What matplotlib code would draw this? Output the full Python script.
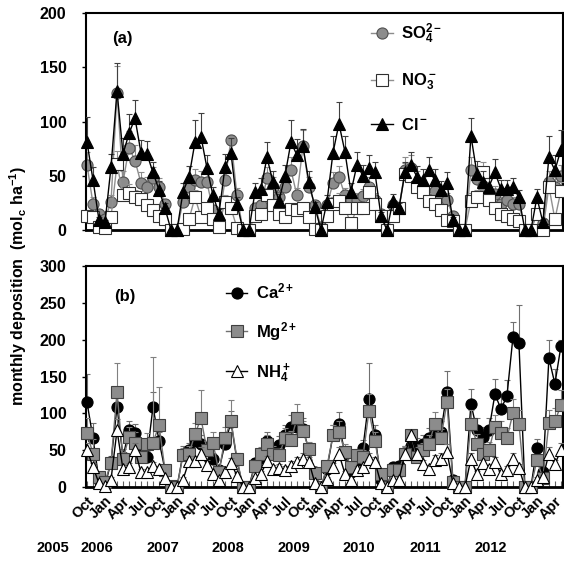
import numpy as np
import pandas as pd
import matplotlib
matplotlib.use('Agg')
import matplotlib.pyplot as plt
from matplotlib.ticker import MultipleLocator

plt.rcParams['font.family'] = ['Liberation Sans', 'DejaVu Sans']
plt.rcParams['font.weight'] = 'bold'
plt.rcParams['mathtext.fontset'] = 'custom'
plt.rcParams['mathtext.rm'] = 'Liberation Sans:bold'
plt.rcParams['mathtext.it'] = 'Liberation Sans:bold'
plt.rcParams['mathtext.bf'] = 'Liberation Sans:bold'

# monthly values, Oct 2005 .. May 2012
months = pd.date_range('2005-10-01', periods=80, freq='MS')
years = ['2005', '2006', '2007', '2008', '2009', '2010', '2011', '2012']

# panel (a) anions
so4 = [60, 24, 15, 10, 26, 126, 44, 76, 64, 43, 40, 48, 40, 24, 0, 0, 26, 40, 46, 44,
       44, 18, 8, 46, 83, 32, 0, 0, 20, 23, 48, 40, 30, 40, 55, 32, 77, 40, 23, 3,
       23, 43, 49, 32, 28, 28, 31, 40, 28, 15, 0, 23, 20, 55, 57, 44, 40, 33, 36, 31,
       28, 13, 0, 0, 55, 47, 41, 31, 33, 24, 28, 24, 24, 0, 0, 15, 6, 44, 40, 50]
so4_err = [12, 6, 4, 3, 6, 25, 10, 15, 14, 10, 9, 10, 8, 5, 0, 0, 6, 9, 10, 10,
           10, 5, 2, 10, 5, 7, 0, 0, 5, 5, 10, 9, 7, 9, 12, 7, 15, 9, 5, 1,
           5, 10, 10, 7, 6, 6, 7, 9, 6, 4, 0, 5, 5, 12, 12, 10, 9, 8, 8, 7,
           6, 3, 0, 0, 12, 10, 9, 7, 8, 6, 6, 6, 6, 0, 0, 4, 2, 10, 9, 10]
no3 = [13, 12, 3, 2, 12, 61, 32, 34, 30, 29, 23, 18, 13, 10, 0, 0, 1, 10, 30, 12,
       20, 10, 3, 26, 20, 2, 0, 0, 13, 15, 32, 23, 15, 12, 19, 18, 20, 12, 1, 0,
       13, 24, 27, 20, 6, 20, 20, 35, 24, 13, 0, 13, 20, 52, 50, 40, 35, 27, 24, 18,
       9, 8, 0, 0, 27, 30, 53, 28, 20, 15, 13, 10, 8, 0, 0, 15, 0, 40, 10, 36]
no3_err = [4, 4, 1, 1, 4, 12, 7, 8, 7, 7, 6, 5, 4, 3, 0, 0, 1, 3, 7, 4,
           5, 3, 1, 6, 5, 1, 0, 0, 4, 4, 7, 6, 4, 4, 5, 5, 5, 4, 1, 0,
           4, 6, 7, 5, 2, 5, 5, 8, 6, 4, 0, 4, 5, 10, 10, 9, 8, 7, 6, 5,
           3, 2, 0, 0, 7, 7, 10, 7, 5, 4, 4, 3, 3, 0, 0, 4, 0, 9, 3, 8]
cl = [81, 46, 9, 7, 58, 128, 70, 89, 103, 71, 70, 53, 37, 20, 0, 0, 35, 49, 81, 86,
      57, 32, 15, 58, 71, 24, 0, 0, 35, 38, 67, 44, 27, 50, 81, 69, 77, 44, 21, 0,
      26, 71, 98, 72, 35, 60, 50, 57, 53, 13, 0, 27, 20, 53, 60, 49, 46, 55, 46, 37,
      43, 9, 0, 0, 87, 52, 44, 40, 53, 38, 38, 40, 30, 0, 0, 30, 7, 67, 55, 74]
cl_err = [23, 12, 3, 2, 12, 26, 15, 18, 17, 12, 12, 10, 8, 5, 0, 0, 8, 10, 20, 22,
          12, 8, 4, 12, 14, 6, 0, 0, 8, 10, 14, 10, 6, 10, 20, 15, 16, 10, 5, 0,
          6, 16, 20, 15, 8, 12, 10, 12, 10, 4, 0, 6, 5, 10, 12, 10, 10, 12, 10, 8,
          10, 3, 0, 0, 16, 12, 10, 8, 12, 8, 8, 8, 7, 0, 0, 8, 3, 20, 14, 18]

# panel (b) cations
ca = [115, 66, 9, 2, 34, 109, 41, 77, 73, 54, 41, 109, 63, 23, 0, 0, 45, 50, 63, 59,
      50, 38, 23, 59, 88, 36, 0, 0, 32, 39, 63, 45, 57, 70, 82, 82, 79, 50, 20, 0,
      25, 70, 86, 45, 20, 35, 53, 119, 70, 10, 0, 27, 28, 45, 55, 54, 58, 66, 72, 75,
      129, 9, 0, 0, 113, 77, 68, 77, 126, 106, 123, 203, 196, 0, 0, 53, 20, 175, 140, 191]
ca_err = [39, 21, 3, 1, 8, 25, 10, 12, 12, 10, 8, 20, 12, 5, 0, 0, 10, 10, 12, 12,
          10, 8, 5, 12, 15, 8, 0, 0, 7, 8, 12, 10, 12, 14, 16, 16, 15, 10, 5, 0,
          6, 14, 16, 10, 5, 8, 11, 50, 14, 3, 0, 6, 6, 10, 12, 12, 12, 14, 15, 15,
          29, 3, 0, 0, 20, 16, 14, 16, 21, 20, 22, 21, 51, 0, 0, 12, 5, 24, 20, 8]
mg = [73, 45, 13, 7, 33, 129, 38, 68, 60, 41, 59, 60, 84, 23, 1, 0, 43, 45, 72, 93,
      50, 60, 20, 67, 90, 38, 0, 0, 29, 45, 59, 45, 43, 66, 64, 93, 76, 51, 19, 0,
      28, 70, 75, 48, 27, 43, 41, 103, 62, 17, 0, 23, 23, 45, 70, 41, 50, 59, 86, 66,
      115, 7, 0, 0, 86, 59, 45, 50, 82, 73, 66, 100, 86, 0, 0, 36, 12, 87, 89, 111]
mg_err = [20, 20, 4, 3, 8, 39, 10, 14, 14, 10, 14, 117, 52, 6, 0, 0, 10, 10, 15, 38,
          12, 15, 5, 14, 28, 8, 0, 0, 7, 9, 12, 10, 10, 14, 12, 20, 14, 10, 5, 0,
          6, 14, 14, 10, 6, 9, 9, 23, 13, 4, 0, 5, 5, 10, 6, 9, 10, 12, 16, 13,
          18, 2, 0, 0, 18, 13, 10, 11, 16, 16, 14, 20, 18, 0, 0, 8, 3, 18, 18, 20]
nh4 = [50, 27, 5, 2, 10, 77, 24, 27, 50, 20, 20, 28, 24, 12, 0, 0, 10, 35, 35, 45,
       30, 18, 10, 20, 33, 15, 0, 0, 12, 18, 35, 25, 26, 23, 29, 34, 38, 34, 5, 0,
       11, 27, 45, 18, 9, 23, 27, 38, 34, 5, 0, 9, 10, 45, 70, 45, 31, 25, 36, 38,
       48, 5, 0, 0, 38, 18, 32, 25, 34, 18, 23, 38, 26, 0, 0, 10, 13, 45, 31, 50]
nh4_err = [10, 6, 1, 1, 3, 15, 6, 6, 10, 5, 5, 6, 5, 3, 0, 0, 3, 7, 7, 9,
           6, 4, 3, 5, 7, 4, 0, 0, 3, 4, 7, 5, 5, 5, 6, 7, 8, 7, 2, 0,
           3, 6, 9, 4, 2, 5, 6, 8, 7, 2, 0, 2, 3, 9, 8, 9, 6, 5, 7, 8,
           10, 2, 0, 0, 8, 4, 6, 5, 7, 4, 5, 8, 5, 0, 0, 3, 3, 9, 6, 10]

x = np.arange(len(months))
tick_pos = x[::3]
tick_lab = [m.strftime('%b') for m in months[::3]]

W, H = 564, 563
fig = plt.figure(figsize=(W / 100, H / 100), dpi=100)
ax_a = fig.add_axes([86 / W, 1 - 230 / H, 477 / W, 217 / H])
ax_b = fig.add_axes([86 / W, 1 - 487 / H, 477 / W, 221 / H])


def series(ax, y, err, marker, fc, ec, lc, errc, label, z):
    y = np.array(y, dtype=float)
    err = np.array(err, dtype=float)
    ax.errorbar(x, y, yerr=[np.zeros_like(err), err], fmt='none', ecolor=errc,
                elinewidth=0.8, capsize=2.5, capthick=0.8, zorder=z)
    ax.plot(x, y, color=lc, lw=1.0, marker=marker, ms=8, mfc=fc, mec=ec,
            mew=0.8, zorder=z + 0.5, clip_on=False, label=label)


series(ax_a, so4, so4_err, 'o', '#8c8c8c', '#505050', '#8c8c8c', '#8c8c8c',
       r'SO$_4^{2-}$', 2)
series(ax_a, no3, no3_err, 's', 'white', '#303030', '#909090', '#909090',
       r'NO$_3^-$', 3)
series(ax_a, cl, cl_err, '^', 'black', 'black', 'black', '#404040',
       r'Cl$^-$', 4)

series(ax_b, ca, ca_err, 'o', 'black', 'black', 'black', '#707070',
       r'Ca$^{2+}$', 2)
series(ax_b, mg, mg_err, 's', '#8c8c8c', '#404040', '#707070', '#808080',
       r'Mg$^{2+}$', 3)
series(ax_b, nh4, nh4_err, '^', 'white', 'black', 'black', '#707070',
       r'NH$_4^+$', 4)

for ax, top in [(ax_a, 200), (ax_b, 300)]:
    ax.set_xlim(-0.17, 79.35)
    ax.set_ylim(0, top)
    ax.yaxis.set_major_locator(MultipleLocator(50))
    ax.tick_params(axis='y', direction='out', length=3, width=1, pad=11,
                   labelsize=11.5)
    for lab in ax.get_yticklabels():
        lab.set_fontweight('bold')
    for s in ax.spines.values():
        s.set_linewidth(1.5)
    ax.spines['bottom'].set_linewidth(2)

ax_a.tick_params(axis='x', length=0, labelbottom=False)

ax_b.set_xticks(tick_pos)
ax_b.set_xticklabels(tick_lab, rotation=45, ha='right', va='top',
                     rotation_mode='anchor', fontsize=10.5, fontweight='bold')
ax_b.xaxis.set_minor_locator(MultipleLocator(1))
ax_b.tick_params(axis='x', which='both', direction='in', length=4, width=0.8,
                 color='#606060', pad=5)

ax_a.text(0.055, 0.86, '(a)', transform=ax_a.transAxes, fontsize=12,
          fontweight='bold')
ax_b.text(0.06, 0.84, '(b)', transform=ax_b.transAxes, fontsize=12,
          fontweight='bold')

ax_a.legend(loc='upper left', bbox_to_anchor=(0.57, 1.02), frameon=False,
            fontsize=12, handlelength=1.3, handletextpad=0.5, labelspacing=1.5,
            borderaxespad=0.4)
ax_b.legend(loc='upper left', bbox_to_anchor=(0.265, 0.99), frameon=False,
            fontsize=12, handlelength=1.3, handletextpad=0.5, labelspacing=1.1,
            borderaxespad=0.4)

fig.text(18 / W, 1 - 286 / H, r'monthly deposition  (mol$_\mathrm{c}$ ha$^{-1}$)',
         rotation=90, ha='center', va='center', fontsize=11.5, fontweight='bold')

year_px = [53, 97, 163, 228, 294, 359, 425, 491]
for yr, px in zip(years, year_px):
    fig.text(px / W, 1 - 548 / H, yr, ha='center', va='center', fontsize=10.5,
             fontweight='bold')

fig.savefig('out.png', dpi=100)
